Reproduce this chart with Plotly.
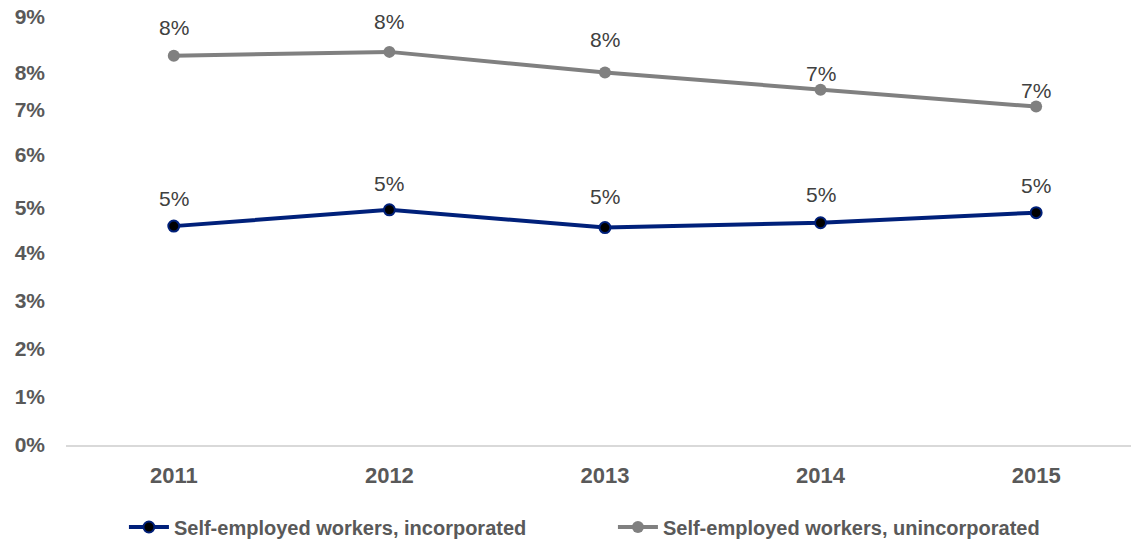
import plotly.graph_objects as go

years = [2011, 2012, 2013, 2014, 2015]
incorporated = [4.56, 4.90, 4.53, 4.63, 4.84]
unincorporated = [8.11, 8.19, 7.76, 7.40, 7.05]
series_names = ["Self-employed workers, incorporated", "Self-employed workers, unincorporated"]
y_tick_vals = [0, 1, 2, 3, 4, 4.94, 6.04, 6.98, 7.75, 8.92]
y_tick_text = ["0%", "1%", "2%", "3%", "4%", "5%", "6%", "7%", "8%", "9%"]

# label offsets (style)
inc_shift = [28, 26, 31, 28, 27]
uninc_shift = [28, 30, 33, 16, 16]

FONT = "Liberation Sans"
fig = go.Figure()
fig.add_trace(go.Scatter(
    x=years, y=incorporated, name=series_names[0], mode="lines+markers",
    line=dict(color="#00207a", width=4),
    marker=dict(size=11, color="#000000", line=dict(color="#00207a", width=2)),
))
fig.add_trace(go.Scatter(
    x=years, y=unincorporated, name=series_names[1], mode="lines+markers",
    line=dict(color="#808080", width=4),
    marker=dict(size=12, color="#808080"),
))

for vals, shifts in ((incorporated, inc_shift), (unincorporated, uninc_shift)):
    for x, v, s in zip(years, vals, shifts):
        fig.add_annotation(x=x, y=v, text=f"{round(v):d}%", showarrow=False,
                           yshift=s, font=dict(family=FONT, size=21, color="#404040"))

fig.update_layout(
    width=1131, height=542,
    margin=dict(l=66, r=0, t=13, b=97),
    paper_bgcolor="white", plot_bgcolor="white",
    showlegend=True,
    legend=dict(orientation="h", x=0.0544, xanchor="left",
                yref="container", y=(542 - 527) / 542, yanchor="middle",
                font=dict(family=FONT, size=20, color="#595959", weight="bold"),
                itemwidth=40, tracegroupgap=0, entrywidth=434),
)
fig.update_xaxes(
    range=[2010.5, 2015.44], tickvals=years, ticktext=[str(y) for y in years],
    showgrid=False, zeroline=False, showline=True, linecolor="#d9d9d9", linewidth=2,
    ticks="", ticklabelstandoff=10, automargin=False,
    tickfont=dict(family=FONT, size=22, color="#595959", weight="bold"),
)
fig.update_yaxes(
    range=[0, 9], tickvals=y_tick_vals, ticktext=y_tick_text,
    showgrid=False, zeroline=False, showline=False, ticks="",
    ticklabelstandoff=20, automargin=False,
    tickfont=dict(family=FONT, size=21, color="#595959", weight="bold"),
)

fig.write_html("out.html", config={"displayModeBar": False},
               post_script="document.body.style.margin='0';")
